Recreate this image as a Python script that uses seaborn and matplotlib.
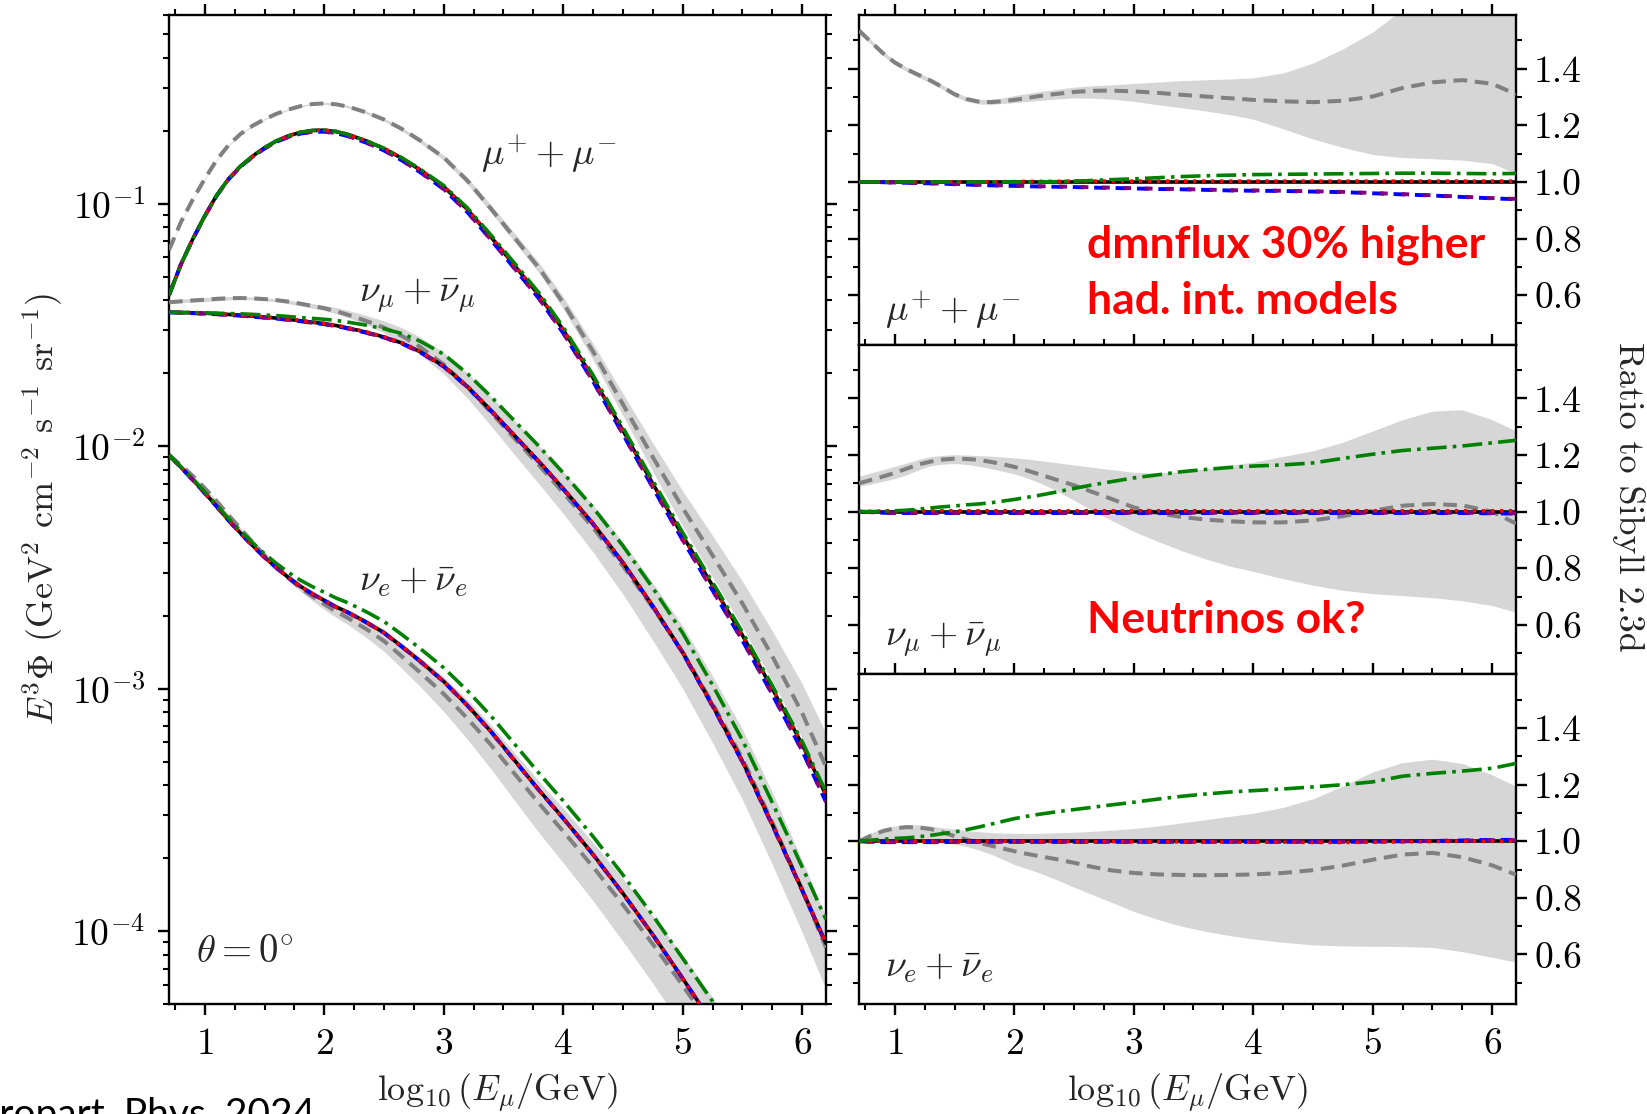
import numpy as np
import pandas as pd
import matplotlib
matplotlib.use("Agg")
import matplotlib.pyplot as plt
from matplotlib.ticker import MultipleLocator, LogLocator, NullFormatter, FormatStrFormatter
import seaborn as sns

# ---------------- data ----------------
log10E = [0.7, 0.8, 0.9, 1.0, 1.1, 1.2, 1.3, 1.4, 1.5, 1.6, 1.7, 1.8, 1.9, 2.0, 2.1, 2.2,
          2.35, 2.5, 2.65, 2.8, 3.0, 3.2, 3.4, 3.6, 3.8, 4.0, 4.25, 4.5, 4.75, 5.0, 5.25,
          5.5, 5.75, 6.0, 6.2]

# Sibyll 2.3d reference fluxes, E^3 Phi  (GeV^2 cm^-2 s^-1 sr^-1)
flux_mu_sibyll = [0.0419, 0.0562, 0.0716, 0.0891, 0.1084, 0.1268, 0.1429, 0.1570, 0.1702,
                  0.1816, 0.1905, 0.1968, 0.2004, 0.2009, 0.1982, 0.1928, 0.1816, 0.1687,
                  0.1538, 0.1380, 0.1175, 0.0944, 0.0724, 0.0550, 0.0417, 0.0302, 0.0191,
                  0.0116, 0.0070, 0.00427, 0.00266, 0.00166, 0.00100, 5.89e-4, 3.63e-4]
flux_numu_sibyll = [0.03565, 0.03556, 0.03548, 0.03532, 0.03516, 0.03491, 0.03467, 0.03436,
                    0.03404, 0.03373, 0.03334, 0.03289, 0.03243, 0.03199, 0.03141, 0.03069,
                    0.02951, 0.02818, 0.02661, 0.02455, 0.02138, 0.01758, 0.01396, 0.01096,
                    0.00861, 0.00668, 0.00479, 0.00331, 0.00219, 0.00141, 8.51e-4, 5.01e-4,
                    2.75e-4, 1.48e-4, 8.9e-5]
flux_nue_sibyll = [9.19e-3, 8.18e-3, 7.26e-3, 6.41e-3, 5.64e-3, 4.94e-3, 4.37e-3, 3.89e-3,
                   3.48e-3, 3.15e-3, 2.87e-3, 2.64e-3, 2.46e-3, 2.31e-3, 2.17e-3, 2.06e-3,
                   1.88e-3, 1.70e-3, 1.49e-3, 1.30e-3, 1.07e-3, 8.51e-4, 6.61e-4, 5.01e-4,
                   3.80e-4, 2.92e-4, 2.07e-4, 1.43e-4, 9.66e-5, 6.38e-5, 4.17e-5, 2.69e-5,
                   1.72e-5, 1.08e-5, 7.4e-6]

# ratios to Sibyll 2.3d -- muons
mu_ratio_dmnflux = [1.535, 1.495, 1.455, 1.422, 1.398, 1.378, 1.358, 1.335, 1.31, 1.293,
                    1.284, 1.282, 1.285, 1.29, 1.296, 1.303, 1.311, 1.318, 1.322, 1.323,
                    1.32, 1.315, 1.308, 1.302, 1.296, 1.29, 1.285, 1.282, 1.287, 1.302,
                    1.332, 1.352, 1.36, 1.347, 1.31]
mu_band_hi = [1.543, 1.503, 1.463, 1.43, 1.406, 1.386, 1.366, 1.343, 1.318, 1.301, 1.292,
              1.292, 1.297, 1.305, 1.312, 1.319, 1.327, 1.335, 1.34, 1.343, 1.348, 1.353,
              1.358, 1.361, 1.364, 1.368, 1.385, 1.42, 1.47, 1.53, 1.61, 1.67, 1.73, 1.78,
              1.80]
mu_band_lo = [1.527, 1.487, 1.447, 1.414, 1.39, 1.37, 1.35, 1.327, 1.302, 1.285, 1.276,
              1.274, 1.277, 1.28, 1.284, 1.288, 1.293, 1.297, 1.296, 1.293, 1.285, 1.273,
              1.262, 1.251, 1.238, 1.222, 1.188, 1.152, 1.122, 1.097, 1.086, 1.082, 1.077,
              1.065, 1.03]
mu_ratio_green = [1.0, 1.0, 1.0, 1.0, 1.0, 1.0, 1.0, 1.0, 1.0, 1.0, 1.0, 1.0, 1.0, 1.0,
                  1.0, 1.0, 1.001, 1.003, 1.005, 1.008, 1.011, 1.015, 1.019, 1.022, 1.024,
                  1.026, 1.027, 1.028, 1.029, 1.03, 1.031, 1.031, 1.03, 1.029, 1.03]
mu_ratio_blue = [1.0, 1.0, 0.999, 0.998, 0.997, 0.996, 0.995, 0.994, 0.992, 0.991, 0.989,
                 0.988, 0.987, 0.986, 0.985, 0.984, 0.983, 0.982, 0.98, 0.979, 0.977, 0.975,
                 0.974, 0.972, 0.97, 0.969, 0.968, 0.966, 0.964, 0.96, 0.956, 0.952, 0.947,
                 0.942, 0.939]
mu_ratio_purple = [1.0, 1.0, 0.999, 0.998, 0.997, 0.996, 0.995, 0.994, 0.993, 0.992, 0.99,
                   0.989, 0.988, 0.987, 0.986, 0.985, 0.984, 0.983, 0.981, 0.98, 0.978,
                   0.976, 0.975, 0.973, 0.971, 0.97, 0.969, 0.967, 0.965, 0.961, 0.957,
                   0.953, 0.948, 0.943, 0.94]
mu_ratio_red = [1.0, 1.0, 1.0, 1.0, 1.0, 1.0, 1.0, 1.0, 1.0, 1.0, 1.0, 1.001, 1.001, 1.001,
                1.002, 1.002, 1.002, 1.003, 1.003, 1.003, 1.003, 1.003, 1.003, 1.003, 1.003,
                1.003, 1.003, 1.003, 1.003, 1.003, 1.003, 1.003, 1.003, 1.003, 1.003]

# ratios -- muon neutrinos
numu_ratio_dmnflux = [1.10, 1.112, 1.124, 1.137, 1.152, 1.167, 1.177, 1.184, 1.187, 1.186,
                      1.183, 1.176, 1.168, 1.158, 1.146, 1.133, 1.113, 1.093, 1.07, 1.047,
                      1.015, 0.995, 0.981, 0.972, 0.966, 0.962, 0.962, 0.969, 0.984, 1.003,
                      1.021, 1.027, 1.022, 1.0, 0.958]
numu_band_hi = [1.125, 1.137, 1.148, 1.16, 1.172, 1.185, 1.194, 1.199, 1.201, 1.2, 1.198,
                1.196, 1.193, 1.19, 1.186, 1.181, 1.173, 1.165, 1.157, 1.149, 1.139, 1.136,
                1.142, 1.151, 1.163, 1.175, 1.195, 1.215, 1.245, 1.285, 1.325, 1.355, 1.36,
                1.325, 1.285]
numu_band_lo = [1.09, 1.098, 1.107, 1.117, 1.13, 1.148, 1.162, 1.168, 1.17, 1.167, 1.16,
                1.152, 1.143, 1.133, 1.12, 1.104, 1.075, 1.04, 1.005, 0.972, 0.93, 0.895,
                0.862, 0.833, 0.808, 0.789, 0.763, 0.74, 0.722, 0.71, 0.703, 0.696, 0.685,
                0.668, 0.645]
numu_ratio_green = [1.0, 1.0, 1.001, 1.003, 1.005, 1.009, 1.013, 1.017, 1.02, 1.024, 1.027,
                    1.031, 1.037, 1.043, 1.05, 1.057, 1.069, 1.082, 1.094, 1.105, 1.119,
                    1.13, 1.141, 1.149, 1.156, 1.161, 1.165, 1.172, 1.188, 1.203, 1.216,
                    1.224, 1.232, 1.243, 1.252]
numu_ratio_blue = [1.0, 0.998, 0.996, 0.995, 0.995, 0.995, 0.995, 0.995, 0.995, 0.995,
                   0.995, 0.995, 0.995, 0.995, 0.995, 0.995, 0.995, 0.995, 0.995, 0.995,
                   0.995, 0.995, 0.995, 0.995, 0.995, 0.995, 0.995, 0.995, 0.995, 0.995,
                   0.995, 0.995, 0.995, 0.994, 0.993]
numu_ratio_purple = [1.0, 0.998, 0.996, 0.995, 0.995, 0.995, 0.995, 0.995, 0.995, 0.995,
                     0.995, 0.995, 0.995, 0.995, 0.995, 0.995, 0.995, 0.995, 0.995, 0.995,
                     0.996, 0.996, 0.996, 0.996, 0.996, 0.996, 0.996, 0.996, 0.996, 0.996,
                     0.996, 0.996, 0.996, 0.995, 0.994]
numu_ratio_red = [1.0, 1.001, 1.002, 1.003, 1.003, 1.003, 1.003, 1.003, 1.003, 1.003,
                  1.003, 1.003, 1.003, 1.003, 1.003, 1.003, 1.003, 1.003, 1.003, 1.003,
                  1.003, 1.003, 1.003, 1.003, 1.003, 1.003, 1.003, 1.003, 1.003, 1.003,
                  1.003, 1.003, 1.003, 1.003, 1.003]

# ratios -- electron neutrinos
nue_ratio_dmnflux = [1.0, 1.02, 1.036, 1.046, 1.05, 1.049, 1.043, 1.032, 1.018, 1.006, 0.995,
                     0.985, 0.975, 0.965, 0.956, 0.948, 0.937, 0.924, 0.91, 0.898, 0.888,
                     0.883, 0.881, 0.88, 0.881, 0.883, 0.888, 0.898, 0.914, 0.935, 0.953,
                     0.959, 0.944, 0.915, 0.882]
nue_band_hi = [1.005, 1.03, 1.046, 1.054, 1.058, 1.058, 1.054, 1.048, 1.043, 1.038, 1.034,
               1.031, 1.029, 1.028, 1.028, 1.028, 1.03, 1.032, 1.035, 1.039, 1.045, 1.054,
               1.065, 1.076, 1.088, 1.099, 1.12, 1.15, 1.195, 1.245, 1.278, 1.29, 1.275,
               1.235, 1.195]
nue_band_lo = [0.998, 1.0, 1.003, 1.005, 1.006, 1.004, 1.0, 0.995, 0.99, 0.982, 0.97, 0.955,
               0.937, 0.918, 0.904, 0.89, 0.865, 0.838, 0.812, 0.787, 0.752, 0.724, 0.70,
               0.682, 0.667, 0.655, 0.643, 0.634, 0.63, 0.629, 0.628, 0.625, 0.61, 0.59,
               0.573]
nue_ratio_green = [1.0, 1.004, 1.007, 1.01, 1.012, 1.016, 1.021, 1.027, 1.033, 1.041, 1.05,
                   1.06, 1.07, 1.08, 1.088, 1.095, 1.104, 1.112, 1.12, 1.128, 1.138, 1.149,
                   1.159, 1.167, 1.174, 1.179, 1.185, 1.192, 1.2, 1.21, 1.23, 1.24, 1.248,
                   1.258, 1.275]
nue_ratio_blue = [1.0, 0.998, 0.997, 0.997, 0.997, 0.997, 0.997, 0.997, 0.998, 0.998, 0.998,
                  0.998, 0.998, 0.998, 0.998, 0.998, 0.998, 0.998, 0.998, 0.998, 0.998,
                  0.998, 0.998, 0.998, 0.998, 0.998, 0.998, 0.998, 0.998, 0.999, 1.0, 1.001,
                  1.003, 1.005, 1.005]
nue_ratio_purple = [1.0, 0.998, 0.997, 0.997, 0.997, 0.997, 0.997, 0.997, 0.998, 0.998,
                    0.998, 0.998, 0.998, 0.998, 0.998, 0.998, 0.998, 0.998, 0.998, 0.998,
                    0.998, 0.998, 0.998, 0.998, 0.998, 0.998, 0.998, 0.998, 0.998, 0.999,
                    1.0, 1.001, 1.002, 1.004, 1.004]
nue_ratio_red = [1.0, 1.0, 1.0, 1.0, 1.0, 1.0, 1.0, 1.0, 1.0, 1.0, 1.0, 1.0, 1.0, 1.0, 0.999,
                 0.999, 0.999, 0.999, 0.999, 0.999, 0.998, 0.998, 0.998, 0.998, 0.997,
                 0.997, 0.997, 0.996, 0.996, 0.997, 0.998, 0.999, 1.0, 1.0, 1.0]

panel_labels = [r"$\mu^{+} + \mu^{-}$", r"$\nu_{\mu} + \bar{\nu}_{\mu}$", r"$\nu_{e} + \bar{\nu}_{e}$"]
xlabel = r"$\log_{10}(E_{\mu}/\mathrm{GeV})$"
ylabel_left = r"$E^{3}\Phi$ (GeV$^{2}$ cm$^{-2}$ s$^{-1}$ sr$^{-1}$)"
ylabel_right = "Ratio to Sibyll 2.3d"

# ---------------- assemble tables ----------------
particles = [
    dict(base=flux_mu_sibyll, dmn=mu_ratio_dmnflux, lo=mu_band_lo, hi=mu_band_hi,
         green=mu_ratio_green, blue=mu_ratio_blue, purple=mu_ratio_purple, red=mu_ratio_red),
    dict(base=flux_numu_sibyll, dmn=numu_ratio_dmnflux, lo=numu_band_lo, hi=numu_band_hi,
         green=numu_ratio_green, blue=numu_ratio_blue, purple=numu_ratio_purple, red=numu_ratio_red),
    dict(base=flux_nue_sibyll, dmn=nue_ratio_dmnflux, lo=nue_band_lo, hi=nue_band_hi,
         green=nue_ratio_green, blue=nue_ratio_blue, purple=nue_ratio_purple, red=nue_ratio_red),
]

LW = 2.6
styles = [
    ("dmn", dict(color="gray", linestyle=(0, (3.4, 1.9)), lw=LW + 0.3)),
    ("black", dict(color="black", linestyle="-", lw=LW)),
    ("blue", dict(color="blue", linestyle=(0, (3.0, 2.5)), lw=LW + 0.2)),
    ("purple", dict(color="purple", linestyle=(3.5, (2.0, 3.5)), lw=LW + 0.2)),
    ("red", dict(color="red", linestyle=(0, (0.9, 1.6)), lw=LW)),
    ("green", dict(color="green", linestyle=(0, (5.5, 1.7, 1.0, 1.7)), lw=LW)),
]

# ---------------- figure ----------------
sns.set_theme(style="ticks")
plt.rcParams.update({
    "font.family": ["cmr10", "DejaVu Sans"],
    "mathtext.fontset": "cm",
    "axes.formatter.use_mathtext": True,
    "axes.unicode_minus": False,
    "axes.linewidth": 1.7,
    "xtick.major.width": 1.7, "ytick.major.width": 1.7,
    "xtick.minor.width": 1.5, "ytick.minor.width": 1.5,
    "xtick.major.size": 8, "ytick.major.size": 8,
    "xtick.minor.size": 4, "ytick.minor.size": 4,
    "xtick.direction": "out", "ytick.direction": "out",
    "axes.edgecolor": "black",
    "xtick.color": "black", "ytick.color": "black",
})
FS = 27

fig = plt.figure(figsize=(16.47, 11.14), dpi=100)
L0, B0, W0, H0 = 169/1647, 110/1114, 657/1647, 989/1114
axL = fig.add_axes([L0, B0, W0, H0])
R0 = 859/1647
hR = H0/3
axR = [fig.add_axes([R0, B0 + (2 - i)*hR, W0, hR]) for i in range(3)]

band_color = "#d6d6d6"
for i, p in enumerate(particles):
    base = np.array(p["base"])
    df = pd.DataFrame({"log10E": log10E, "base": base})
    df["black_r"] = df["base"] / df["base"]
    for key in ["dmn", "green", "blue", "purple", "red"]:
        df[key + "_r"] = p[key]
    df["lo"] = p["lo"]
    df["hi"] = p["hi"]
    for key in ["dmn", "black", "green", "blue", "purple", "red"]:
        df[key + "_f"] = df["base"] * df[key + "_r"]

    # left panel (fluxes)
    axL.fill_between(df["log10E"], df["base"]*df["lo"], df["base"]*df["hi"],
                     color=band_color, lw=0, zorder=1)
    for key, st in styles:
        sns.lineplot(data=df, x="log10E", y=key + "_f", ax=axL, zorder=3, **st)

    # right panel (ratios)
    ax = axR[i]
    ax.fill_between(df["log10E"], df["lo"], df["hi"], color=band_color, lw=0, zorder=1)
    for key, st in styles:
        sns.lineplot(data=df, x="log10E", y=key + "_r", ax=ax, zorder=3, **st)

# ---- left axis formatting
axL.set_yscale("log")
axL.set_xlim(0.7, 6.2)
axL.set_ylim(5e-5, 0.6)
axL.xaxis.set_major_locator(MultipleLocator(1))
axL.xaxis.set_minor_locator(MultipleLocator(0.25))
axL.yaxis.set_major_locator(LogLocator(base=10, numticks=12))
axL.yaxis.set_minor_locator(LogLocator(base=10, subs=np.arange(2, 10), numticks=12))
axL.yaxis.set_minor_formatter(NullFormatter())
axL.tick_params(which="both", top=True, right=True, bottom=True, left=True)
axL.tick_params(axis="x", which="major", labelsize=FS, pad=9)
axL.tick_params(axis="y", which="major", labelsize=FS, pad=9)
axL.set_xlabel(xlabel, fontsize=FS - 1)
axL.set_ylabel(ylabel_left, fontsize=FS - 1)
axL.xaxis.set_label_coords(0.5, -0.069)
axL.yaxis.set_label_coords(-0.158, 0.5)
for s in axL.spines.values():
    s.set_visible(True)

axL.text(3.31, 0.161, panel_labels[0], fontsize=FS, ha="left", va="center")
axL.text(2.29, 0.042, panel_labels[1], fontsize=FS, ha="left", va="center")
axL.text(2.29, 0.00274, panel_labels[2], fontsize=FS, ha="left", va="center")
axL.text(0.93, 8.2e-5, r"$\theta = 0^{\circ}$", fontsize=FS + 1, ha="left", va="center")

# ---- right axes formatting
for i, ax in enumerate(axR):
    ax.set_xlim(0.7, 6.2)
    ax.set_ylim(0.425, 1.59)
    ax.xaxis.set_major_locator(MultipleLocator(1))
    ax.xaxis.set_minor_locator(MultipleLocator(0.25))
    ax.yaxis.set_major_locator(MultipleLocator(0.2))
    ax.yaxis.set_minor_locator(MultipleLocator(0.1))
    ax.yaxis.set_major_formatter(FormatStrFormatter("%.1f"))
    last = (i == 2)
    ax.tick_params(which="both", top=True, bottom=last, left=True, right=True,
                   labelleft=False, labelright=True, labelbottom=last)
    ax.tick_params(axis="y", which="major", labelsize=FS, pad=5)
    ax.tick_params(axis="x", which="major", labelsize=FS, pad=9)
    ax.set_ylabel("")
    ax.set_xlabel(xlabel if last else "", fontsize=FS - 1)
    for s in ax.spines.values():
        s.set_visible(True)
    ax.text(0.04, 0.107, panel_labels[i], transform=ax.transAxes, fontsize=FS,
            ha="left", va="center")
axR[2].xaxis.set_label_coords(0.5, -0.207)

fig.text(1628/1647, 1 - 497/1114, ylabel_right, rotation=270, fontsize=FS - 1,
         ha="center", va="center")

# ---- slide annotations
red_kw = dict(color="red", fontsize=32, fontweight="bold", family=["Lato", "DejaVu Sans"],
              ha="left", va="center")
fig.text(1087/1647, 1 - 245/1114, "dmnflux 30% higher", **red_kw)
fig.text(1087/1647, 1 - 301/1114, "had. int. models", **red_kw)
fig.text(1087/1647, 1 - 620/1114, "Neutrinos ok?", **red_kw)
fig.text(315/1647, 1 - 1097/1114, "Astropart. Phys. 2024", color="black", fontsize=28,
         family=["Lato", "DejaVu Sans"], ha="right", va="top")

fig.savefig("out.png", dpi=100)
